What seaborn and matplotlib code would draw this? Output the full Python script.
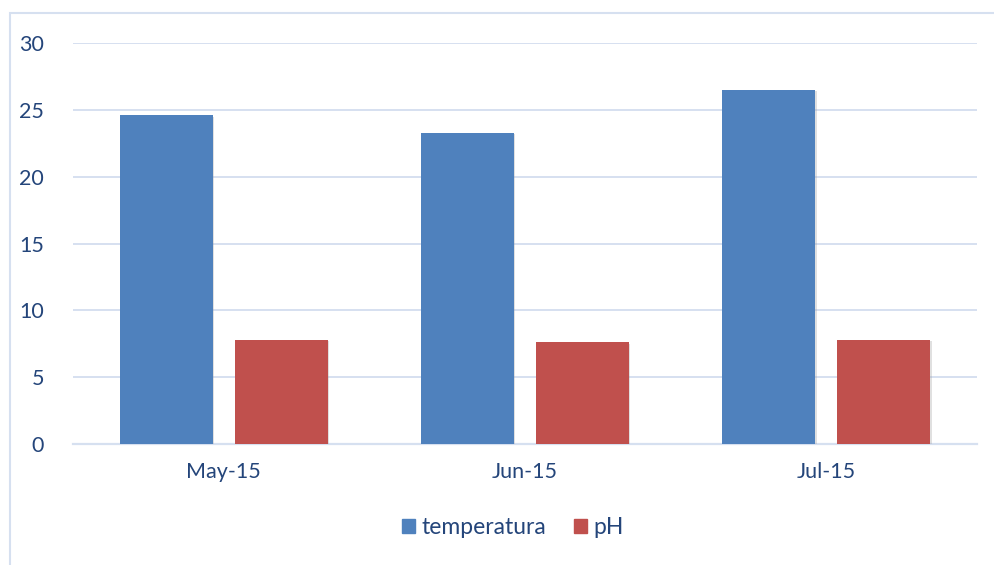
import matplotlib
matplotlib.use("Agg")
import matplotlib.pyplot as plt
import matplotlib.patches as mpatches
import matplotlib.patheffects as pe
import seaborn as sns
import pandas as pd

# Monthly readings
months = ["May-15", "Jun-15", "Jul-15"]
temperatura = [24.6, 23.3, 26.5]
ph = [7.8, 7.6, 7.8]
series_names = ["temperatura", "pH"]
y_ticks = [0, 5, 10, 15, 20, 25, 30]

df = pd.DataFrame({
    "month": months * 2,
    "serie": [series_names[0]] * len(months) + [series_names[1]] * len(months),
    "valor": temperatura + ph,
})

sns.set_theme(style="white")
plt.rcParams["font.family"] = ["Lato", "DejaVu Sans"]

text_color = "#24457A"
grid_color = "#D6E0F0"
palette = {"temperatura": "#4F81BD", "pH": "#C0504D"}

fig = plt.figure(figsize=(9.94, 5.65), dpi=100)
ax = fig.add_axes([73 / 994, 1 - 444 / 565, (977 - 73) / 994, (444 - 43) / 565])

sns.barplot(data=df, x="month", y="valor", hue="serie", order=months,
            hue_order=series_names, palette=palette, width=0.762, gap=0.19,
            saturation=1, ax=ax, legend=False, zorder=3)

for bar in ax.patches:
    bar.set_edgecolor("none")
    bar.set_path_effects([pe.SimplePatchShadow(offset=(1.0, -1.0), shadow_rgbFace="#9a9a9a", alpha=0.3),
                          pe.Normal()])

ax.set_xlim(-0.5, 2.5)
ax.set_ylim(0, 30)
ax.set_yticks(y_ticks)
ax.yaxis.grid(True, color=grid_color, linewidth=1.4, zorder=0)
ax.set_axisbelow(True)
for side in ["top", "right", "left"]:
    ax.spines[side].set_visible(False)
ax.spines["bottom"].set_color(grid_color)
ax.spines["bottom"].set_linewidth(1.6)
ax.set_xlabel("")
ax.set_ylabel("")

ax.set_xticks([-0.5, 0.5, 1.5, 2.5], minor=True)
ax.tick_params(axis="x", which="minor", length=7, width=1.6, color=grid_color, direction="out")
ax.tick_params(axis="x", which="major", length=0, pad=13, labelsize=15.5, labelcolor=text_color)
ax.tick_params(axis="y", length=0, pad=21, labelsize=15.5, labelcolor=text_color)

# Chart area border
fig.patches.append(mpatches.Rectangle((9.5 / 994, -0.05), 1.1, 1 - 13 / 565 + 0.05,
                                      transform=fig.transFigure, fill=False,
                                      edgecolor=grid_color, linewidth=1.5))

handles = [mpatches.Patch(color=palette[s], label=s) for s in series_names]
leg = fig.legend(handles=handles, loc="center", bbox_to_anchor=(0.516, 1 - 528 / 565),
                 ncol=2, frameon=False, fontsize=16.5, handlelength=0.56, handleheight=0.56,
                 handletextpad=0.3, columnspacing=1.2)
for t in leg.get_texts():
    t.set_color(text_color)

fig.savefig("out.png", dpi=100)
